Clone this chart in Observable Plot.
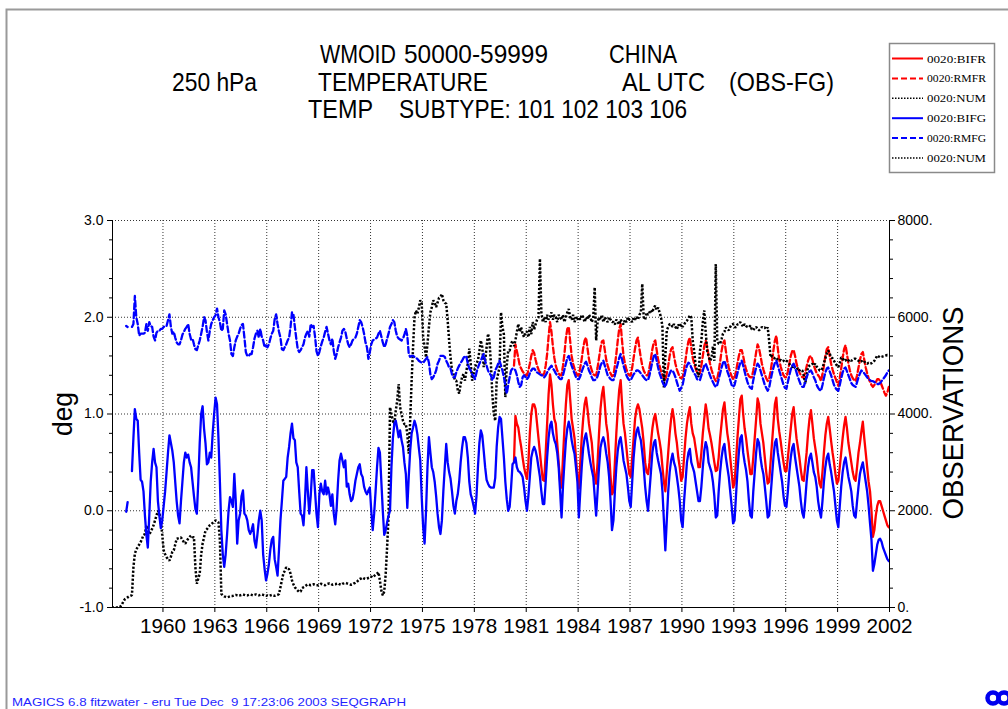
<!DOCTYPE html>
<html><head><meta charset="utf-8">
<script src="https://cdn.jsdelivr.net/npm/d3@7"></script>
<script src="https://cdn.jsdelivr.net/npm/@observablehq/plot@0.6"></script>
<style>
html,body{margin:0;padding:0;background:#fff;}
#page{position:relative;width:1008px;height:709px;overflow:hidden;background:#fff;}
#page > svg{position:absolute;left:0;top:0;}
</style></head><body><div id="page"></div>
<script>
const N = null;
// tick values
const yearTicks = [1960,1963,1966,1969,1972,1975,1978,1981,1984,1987,1990,1993,1996,1999,2002];
const degTicks = [-1,0,1,2,3];
const degMinor = [-0.8,-0.6,-0.4,-0.2,0.2,0.4,0.6,0.8,1.2,1.4,1.6,1.8,2.2,2.4,2.6,2.8];
const obsPerDeg = 2000; // right axis: 0..8000 observations over -1..3 deg
const xDomain = [1957.083, 2002];

// monthly series, Jan of start year first
const bifgStart = 1957;
const bifg = [
/*1957*/ N,N,N,N,N,N,N,N,N,N,-0.01,0.09,
/*1958*/ N,N,0.41,0.75,1.05,0.95,0.93,0.6,0.32,0.3,0.2,-0.05,
/*1959*/ -0.25,-0.38,-0.05,0.3,0.5,0.64,0.5,0.45,0.1,-0.05,-0.18,-0.1,
/*1960*/ 0.05,0.2,0.4,0.6,0.78,0.7,0.62,0.5,0.3,0.1,-0.05,-0.13,
/*1961*/ 0.1,0.3,0.5,0.6,0.55,0.58,0.5,0.45,0.3,0.15,0.02,-0.03,
/*1962*/ 0.3,0.7,1.0,1.08,0.85,0.7,0.48,0.5,0.6,0.55,0.8,1.0,
/*1963*/ 1.17,1.1,0.75,0.3,-0.2,-0.45,-0.58,-0.45,-0.24,0.0,0.14,0.1,
/*1964*/ 0.04,0.38,0.1,-0.34,-0.1,-0.03,0.15,0.21,-0.03,-0.05,-0.1,-0.2,
/*1965*/ -0.24,-0.2,-0.14,-0.31,-0.38,-0.25,-0.1,0.0,-0.1,-0.45,-0.6,-0.72,
/*1966*/ -0.65,-0.55,-0.4,-0.3,-0.27,-0.5,-0.58,-0.67,-0.4,-0.1,0.1,0.31,
/*1967*/ 0.33,0.35,0.55,0.66,0.8,0.9,0.75,0.73,0.5,0.45,0.2,-0.03,
/*1968*/ -0.05,-0.15,0.1,0.45,0.2,-0.03,0.15,0.42,0.42,0.2,-0.03,-0.17,
/*1969*/ 0.17,0.28,0.2,0.17,0.31,0.17,0.24,0.17,0.05,0.17,-0.03,-0.14,
/*1970*/ 0.03,0.31,0.52,0.59,0.52,0.45,0.52,0.25,0.28,0.17,0.1,0.12,
/*1971*/ 0.2,0.31,0.38,0.45,0.48,0.38,0.35,0.25,0.2,0.17,0.21,0.24,
/*1972*/ 0.0,-0.2,-0.03,0.2,0.45,0.65,0.6,0.3,0.0,-0.25,-0.2,-0.12,
/*1973*/ -0.05,0.0,0.45,0.75,0.9,0.93,0.85,0.76,0.83,0.73,0.66,0.5,
/*1974*/ 0.38,0.03,0.35,0.62,0.8,0.86,0.93,0.88,0.79,0.65,0.52,0.14,
/*1975*/ -0.17,-0.34,0.0,0.45,0.76,0.6,0.45,0.4,0.3,0.15,-0.03,-0.17,
/*1976*/ -0.24,-0.1,0.2,0.45,0.69,0.5,0.4,0.33,0.2,0.05,-0.03,0.1,
/*1977*/ 0.17,0.3,0.5,0.65,0.76,0.76,0.7,0.55,0.3,0.17,0.12,0.05,
/*1978*/ -0.03,0.15,0.45,0.7,0.83,0.78,0.62,0.45,0.32,0.28,0.25,0.24,
/*1979*/ 0.24,0.24,0.34,0.66,0.86,0.97,0.95,0.75,0.55,0.3,0.12,0.0,
/*1980*/ 0.04,0.24,0.48,0.5,0.55,0.45,0.41,0.4,0.38,0.35,0.24,0.1,
/*1981*/ 0.0,0.15,0.35,0.55,0.62,0.66,0.62,0.55,0.45,0.35,0.2,0.07,
/*1982*/ 0.07,0.3,0.55,0.75,0.88,0.92,0.8,0.73,0.69,0.6,0.45,0.2,
/*1983*/ -0.07,0.25,0.5,0.72,0.85,0.92,0.85,0.73,0.65,0.59,0.45,0.3,
/*1984*/ -0.07,0.2,0.45,0.65,0.75,0.8,0.7,0.59,0.5,0.42,0.35,0.15,
/*1985*/ -0.05,0.2,0.45,0.65,0.72,0.76,0.7,0.59,0.5,0.35,0.1,-0.2,
/*1986*/ -0.1,0.2,0.45,0.62,0.72,0.76,0.65,0.52,0.45,0.38,0.25,0.1,
/*1987*/ 0.04,0.3,0.55,0.72,0.82,0.86,0.78,0.73,0.6,0.45,0.25,0.1,
/*1988*/ 0.0,0.2,0.4,0.6,0.7,0.73,0.6,0.52,0.45,0.38,0.2,-0.1,
/*1989*/ -0.41,-0.1,0.2,0.4,0.52,0.59,0.5,0.45,0.35,0.24,0.1,-0.1,
/*1990*/ -0.17,0.1,0.3,0.5,0.6,0.64,0.5,0.45,0.4,0.3,0.2,0.1,
/*1991*/ 0.1,0.25,0.45,0.62,0.71,0.65,0.5,0.45,0.4,0.3,0.15,-0.07,
/*1992*/ -0.05,0.2,0.4,0.55,0.65,0.69,0.55,0.45,0.35,0.2,0.05,-0.13,
/*1993*/ -0.1,0.15,0.4,0.6,0.75,0.78,0.6,0.5,0.42,0.3,0.1,-0.05,
/*1994*/ -0.07,0.2,0.4,0.6,0.74,0.7,0.55,0.45,0.38,0.25,0.1,-0.07,
/*1995*/ -0.05,0.15,0.35,0.55,0.7,0.74,0.6,0.5,0.4,0.3,0.15,0.05,
/*1996*/ 0.04,0.2,0.4,0.55,0.65,0.69,0.55,0.45,0.35,0.25,0.1,-0.02,
/*1997*/ -0.07,0.1,0.3,0.45,0.55,0.59,0.5,0.4,0.35,0.25,0.1,0.0,
/*1998*/ -0.07,0.1,0.3,0.45,0.55,0.59,0.48,0.4,0.3,0.2,0.05,-0.1,
/*1999*/ -0.17,0.05,0.25,0.4,0.5,0.55,0.45,0.35,0.28,0.2,0.05,-0.05,
/*2000*/ -0.07,0.1,0.25,0.38,0.45,0.5,0.4,0.3,0.2,0.05,-0.13,-0.3,
/*2001*/ -0.62,-0.55,-0.45,-0.35,-0.3,-0.29,-0.32,-0.38,-0.42,-0.46,-0.5,-0.52
];

const rmfgStart = 1957;
const rmfg = [
/*1957*/ N,N,N,N,N,N,N,N,N,N,1.91,1.9,
/*1958*/ N,N,1.9,1.93,2.22,2.0,1.93,1.81,1.83,1.83,1.83,1.84,
/*1959*/ 1.93,1.86,1.95,1.91,1.9,1.8,1.76,1.84,1.86,1.86,1.88,1.88,
/*1960*/ 1.9,1.91,1.91,1.97,2.03,1.9,1.83,1.85,1.79,1.74,1.72,1.72,
/*1961*/ 1.76,1.82,1.85,1.88,1.9,1.93,1.83,1.77,1.78,1.72,1.67,1.66,
/*1962*/ 1.71,1.76,1.83,1.9,2.0,1.97,1.85,1.76,1.86,1.93,1.97,2.0,
/*1963*/ 2.02,2.09,2.0,1.95,1.86,1.88,2.07,2.03,1.93,1.83,1.76,1.62,
/*1964*/ 1.6,1.69,1.76,1.8,1.83,1.88,1.92,1.93,1.79,1.64,1.6,1.6,
/*1965*/ 1.62,1.62,1.69,1.78,1.83,1.86,1.79,1.88,1.8,1.76,1.69,1.71,
/*1966*/ 1.69,1.72,1.78,1.83,1.86,1.98,2.03,1.93,1.85,1.79,1.67,1.66,
/*1967*/ 1.69,1.72,1.76,1.79,1.9,2.05,2.03,1.9,1.78,1.67,1.64,1.66,
/*1968*/ 1.69,1.72,1.79,1.83,1.86,1.8,1.93,1.9,1.91,1.8,1.65,1.6,
/*1969*/ 1.64,1.7,1.75,1.79,1.85,1.9,1.83,1.76,1.72,1.78,1.65,1.57,
/*1970*/ 1.62,1.69,1.74,1.79,1.86,1.88,1.85,1.78,1.72,1.69,1.72,1.76,
/*1971*/ 1.78,1.79,1.83,1.9,1.97,1.95,1.9,1.83,1.74,1.69,1.57,1.64,
/*1972*/ 1.72,1.76,1.77,1.78,1.79,1.83,1.86,1.8,1.74,1.69,1.72,1.78,
/*1973*/ 1.83,1.9,1.93,1.97,1.95,1.86,1.8,1.78,1.77,1.76,1.78,1.82,
/*1974*/ 1.88,1.81,1.62,1.59,1.6,1.6,1.59,1.58,1.57,1.55,1.54,1.53,
/*1975*/ 1.53,1.55,1.57,1.59,1.53,1.41,1.36,1.38,1.41,1.45,1.52,1.55,
/*1976*/ 1.6,1.6,1.6,1.59,1.55,1.52,1.48,1.47,1.41,1.38,1.38,1.43,
/*1977*/ 1.47,1.5,1.53,1.55,1.58,1.6,1.59,1.52,1.47,1.45,1.41,1.39,
/*1978*/ 1.36,1.43,1.48,1.52,1.55,1.59,1.62,1.55,1.5,1.45,1.42,1.4,
/*1979*/ 1.35,1.38,1.45,1.48,1.52,1.55,1.5,1.45,1.38,1.3,1.21,1.3,
/*1980*/ 1.38,1.45,1.47,1.47,1.45,1.4,1.33,1.28,1.3,1.38,1.4,1.38,
/*1981*/ 1.36,1.38,1.42,1.45,1.47,1.47,1.45,1.43,1.42,1.41,1.4,1.4,
/*1982*/ 1.38,1.4,1.43,1.46,1.48,1.5,1.47,1.45,1.42,1.4,1.38,1.36,
/*1983*/ 1.36,1.4,1.46,1.52,1.58,1.6,1.55,1.5,1.46,1.42,1.38,1.36,
/*1984*/ 1.36,1.39,1.44,1.48,1.52,1.54,1.5,1.45,1.42,1.38,1.35,1.35,
/*1985*/ 1.36,1.39,1.44,1.5,1.53,1.55,1.5,1.45,1.4,1.38,1.36,1.35,
/*1986*/ 1.35,1.4,1.46,1.52,1.58,1.62,1.56,1.5,1.45,1.4,1.37,1.35,
/*1987*/ 1.35,1.38,1.41,1.43,1.45,1.45,1.44,1.42,1.4,1.38,1.36,1.35,
/*1988*/ 1.35,1.4,1.47,1.54,1.6,1.62,1.55,1.48,1.42,1.38,1.33,1.3,
/*1989*/ 1.28,1.33,1.38,1.42,1.45,1.45,1.42,1.38,1.33,1.28,1.24,1.27,
/*1990*/ 1.3,1.38,1.45,1.5,1.53,1.52,1.48,1.45,1.42,1.4,1.36,1.35,
/*1991*/ 1.35,1.4,1.45,1.5,1.52,1.48,1.44,1.4,1.36,1.33,1.3,1.28,
/*1992*/ 1.3,1.36,1.42,1.48,1.53,1.55,1.5,1.44,1.4,1.35,1.3,1.28,
/*1993*/ 1.3,1.36,1.42,1.48,1.53,1.55,1.5,1.44,1.38,1.33,1.29,1.27,
/*1994*/ 1.26,1.35,1.42,1.48,1.52,1.5,1.45,1.4,1.35,1.3,1.27,1.24,
/*1995*/ 1.27,1.35,1.42,1.48,1.53,1.55,1.5,1.45,1.4,1.35,1.3,1.27,
/*1996*/ 1.26,1.33,1.4,1.46,1.5,1.52,1.48,1.43,1.38,1.34,1.3,1.28,
/*1997*/ 1.28,1.33,1.38,1.42,1.44,1.45,1.42,1.38,1.35,1.3,1.27,1.25,
/*1998*/ 1.24,1.3,1.37,1.43,1.47,1.48,1.44,1.4,1.35,1.3,1.27,1.25,
/*1999*/ 1.24,1.3,1.37,1.43,1.47,1.48,1.44,1.4,1.36,1.32,1.3,1.29,
/*2000*/ 1.28,1.33,1.38,1.42,1.45,1.44,1.42,1.4,1.38,1.36,1.35,1.34,
/*2001*/ 1.34,1.33,1.32,1.31,1.31,1.32,1.34,1.36,1.38,1.4,1.43,1.45
];

const bifrStart = 1980;
const bifr = [
/*1980*/ N,N,N,0.5,0.98,0.9,0.86,0.75,0.66,0.55,0.45,0.38,
/*1981*/ 0.33,0.5,0.8,1.0,1.1,1.1,1.05,0.9,0.75,0.6,0.45,0.32,
/*1982*/ 0.31,0.6,0.9,1.2,1.41,1.3,1.1,0.95,0.9,0.7,0.5,0.3,
/*1983*/ 0.24,0.55,0.85,1.1,1.3,1.35,1.15,0.95,0.85,0.75,0.55,0.35,
/*1984*/ 0.23,0.5,0.75,0.95,1.1,1.17,1.05,0.9,0.8,0.7,0.5,0.35,
/*1985*/ 0.28,0.5,0.8,1.05,1.2,1.28,1.1,0.9,0.8,0.6,0.35,0.17,
/*1986*/ 0.2,0.5,0.8,1.05,1.25,1.35,1.1,0.9,0.8,0.65,0.5,0.38,
/*1987*/ 0.35,0.55,0.75,0.95,1.05,1.1,1.05,0.95,0.85,0.7,0.5,0.4,
/*1988*/ 0.38,0.5,0.7,0.85,0.95,1.0,0.9,0.8,0.72,0.62,0.45,0.3,
/*1989*/ 0.2,0.4,0.6,0.8,0.95,1.05,0.95,0.8,0.7,0.55,0.45,0.31,
/*1990*/ 0.35,0.55,0.75,0.9,1.0,1.07,0.9,0.8,0.75,0.65,0.55,0.45,
/*1991*/ 0.45,0.6,0.8,0.95,1.1,1.0,0.85,0.78,0.7,0.6,0.5,0.41,
/*1992*/ 0.42,0.55,0.75,0.9,1.05,1.12,0.95,0.8,0.7,0.55,0.4,0.24,
/*1993*/ 0.28,0.5,0.75,0.95,1.15,1.19,1.0,0.85,0.75,0.62,0.5,0.38,
/*1994*/ 0.38,0.55,0.75,0.95,1.16,1.1,0.9,0.8,0.7,0.55,0.4,0.28,
/*1995*/ 0.3,0.5,0.7,0.9,1.1,1.17,0.95,0.82,0.72,0.6,0.5,0.41,
/*1996*/ 0.41,0.55,0.7,0.85,1.0,1.07,0.9,0.75,0.65,0.55,0.42,0.32,
/*1997*/ 0.31,0.45,0.6,0.8,0.95,1.04,0.9,0.75,0.65,0.55,0.4,0.28,
/*1998*/ 0.24,0.4,0.6,0.78,0.9,0.97,0.85,0.72,0.6,0.5,0.38,0.28,
/*1999*/ 0.31,0.45,0.6,0.75,0.88,0.97,0.85,0.7,0.6,0.5,0.4,0.33,
/*2000*/ 0.31,0.45,0.6,0.7,0.82,0.92,0.75,0.6,0.45,0.3,0.2,0.0,
/*2001*/ -0.27,-0.2,-0.05,0.05,0.1,0.1,0.05,0.0,-0.05,-0.1,-0.15,-0.17
];

const rmfrStart = 1980;
const rmfr = [
/*1980*/ N,N,N,1.5,1.72,1.65,1.58,1.5,1.47,1.44,1.42,1.4,
/*1981*/ 1.4,1.45,1.52,1.6,1.66,1.63,1.56,1.5,1.46,1.43,1.41,1.4,
/*1982*/ 1.42,1.5,1.62,1.8,1.95,1.85,1.7,1.58,1.5,1.45,1.42,1.4,
/*1983*/ 1.4,1.5,1.62,1.78,1.88,1.9,1.75,1.6,1.52,1.47,1.43,1.4,
/*1984*/ 1.4,1.48,1.57,1.68,1.76,1.79,1.68,1.57,1.5,1.45,1.41,1.4,
/*1985*/ 1.4,1.48,1.58,1.68,1.75,1.76,1.66,1.56,1.5,1.45,1.42,1.39,
/*1986*/ 1.4,1.5,1.62,1.76,1.88,1.93,1.75,1.6,1.52,1.46,1.42,1.4,
/*1987*/ 1.4,1.48,1.58,1.68,1.76,1.79,1.68,1.58,1.5,1.45,1.42,1.4,
/*1988*/ 1.4,1.48,1.57,1.67,1.74,1.76,1.66,1.56,1.5,1.44,1.4,1.37,
/*1989*/ 1.35,1.42,1.5,1.6,1.67,1.69,1.6,1.52,1.46,1.42,1.38,1.37,
/*1990*/ 1.38,1.46,1.56,1.67,1.75,1.79,1.68,1.58,1.52,1.47,1.43,1.41,
/*1991*/ 1.42,1.5,1.6,1.7,1.76,1.7,1.6,1.52,1.46,1.41,1.37,1.34,
/*1992*/ 1.36,1.44,1.54,1.65,1.73,1.76,1.65,1.55,1.48,1.43,1.39,1.36,
/*1993*/ 1.37,1.44,1.52,1.6,1.66,1.66,1.6,1.52,1.46,1.42,1.39,1.38,
/*1994*/ 1.38,1.45,1.54,1.64,1.72,1.68,1.6,1.52,1.46,1.41,1.37,1.34,
/*1995*/ 1.36,1.44,1.54,1.66,1.76,1.81,1.68,1.56,1.49,1.44,1.4,1.38,
/*1996*/ 1.38,1.44,1.52,1.6,1.65,1.66,1.6,1.52,1.47,1.43,1.4,1.38,
/*1997*/ 1.38,1.43,1.49,1.55,1.59,1.6,1.56,1.5,1.46,1.42,1.4,1.38,
/*1998*/ 1.34,1.41,1.5,1.6,1.67,1.69,1.6,1.52,1.46,1.41,1.37,1.33,
/*1999*/ 1.29,1.37,1.47,1.58,1.67,1.71,1.62,1.52,1.45,1.4,1.37,1.35,
/*2000*/ 1.34,1.4,1.48,1.56,1.62,1.64,1.56,1.48,1.42,1.37,1.33,1.3,
/*2001*/ 1.28,1.3,1.33,1.36,1.36,1.34,1.3,1.26,1.22,1.19,1.22,1.28
];

// number of observations (right axis)
const numStart = 1957;
const num = [
/*1957*/ 0,0,0,0,0,0,20,60,120,170,190,210,
/*1958*/ 230,240,260,830,1110,1200,1250,1300,1350,1420,1500,1520,
/*1959*/ 1700,1600,1520,1560,1630,1700,1800,1900,2000,1950,1800,1500,
/*1960*/ 1180,1100,1040,1000,970,1050,1150,1180,1300,1420,1430,1440,
/*1961*/ 1450,1400,1350,1320,1380,1420,1460,1490,1450,1450,830,490,
/*1962*/ 600,700,1100,1320,1450,1590,1620,1660,1700,1720,1750,1780,
/*1963*/ 1800,1790,1760,1390,280,250,230,220,210,220,230,240,
/*1964*/ 240,250,260,250,240,250,260,270,260,250,250,260,
/*1965*/ 270,260,250,260,270,260,250,260,270,260,250,240,
/*1966*/ 250,240,250,260,250,240,250,260,280,420,560,700,
/*1967*/ 760,830,800,790,700,560,480,420,380,350,320,330,
/*1968*/ 400,420,440,460,480,470,460,470,480,470,460,460,
/*1969*/ 470,490,480,470,460,480,490,500,490,470,480,480,
/*1970*/ 490,500,480,470,490,500,510,500,490,480,470,480,
/*1971*/ 500,510,530,560,590,600,620,600,590,600,610,620,
/*1972*/ 640,620,650,680,700,730,560,350,250,330,690,1250,
/*1973*/ 1900,4140,4000,3850,3790,4070,4280,4620,4140,4000,3860,3790,
/*1974*/ 3790,3590,3180,3870,4690,5380,6000,6140,6070,6200,6350,6280,
/*1975*/ 5590,5380,5170,5450,5800,6100,6210,6350,6300,6210,6300,6400,
/*1976*/ 6420,6480,6350,6300,6280,5930,5520,5170,4900,4830,4700,4690,
/*1977*/ 4500,4420,4620,4760,4830,4690,4900,5040,5350,5040,4690,4800,
/*1978*/ 4970,5040,5110,5300,5520,5380,4970,5100,5380,5660,5520,5040,
/*1979*/ 4400,4000,3860,4690,4830,4970,6100,5800,5650,4350,5000,5310,
/*1980*/ 5310,5450,5520,5400,5520,5700,5860,5700,5790,5650,5590,5700,
/*1981*/ 5700,5590,5800,5650,5900,5750,5850,5950,6000,7210,6100,5900,
/*1982*/ 6000,5900,6050,5950,6000,6100,5950,6050,6000,5900,6050,6000,
/*1983*/ 5950,6050,5900,6000,6100,6170,6000,5950,6050,5900,6000,5950,
/*1984*/ 6000,5950,6050,6000,5900,6000,5950,6050,6000,5900,6000,6620,
/*1985*/ 5520,5900,6000,5950,6050,5900,6000,5950,5900,6000,5950,5900,
/*1986*/ 5900,5850,5950,5900,5850,5950,5900,5850,5950,5900,6000,5950,
/*1987*/ 5950,5900,6000,5950,6000,5950,6050,6100,6690,6000,5950,6100,
/*1988*/ 6050,6100,6150,6100,6200,6240,6150,6200,6100,6000,5800,4550,
/*1989*/ 5200,5730,5800,5860,5850,5800,5860,5800,5750,5850,5800,5850,
/*1990*/ 5800,5850,5900,5930,5980,6040,6000,5520,5300,5000,4900,4760,
/*1991*/ 5300,5520,5900,6140,5700,5310,5200,5100,5150,5400,5100,7100,
/*1992*/ 5520,5450,5450,5550,5660,5700,5790,5750,5730,5800,5850,5860,
/*1993*/ 5800,5790,5850,5860,5900,5850,5800,5860,5820,5800,5790,5830,
/*1994*/ 5750,5730,5780,5800,5760,5730,5760,5800,5780,5790,5750,5790,
/*1995*/ 5520,5170,5200,5170,5150,5170,5120,5100,5120,5090,5100,5080,
/*1996*/ 5100,5080,5040,5000,4970,5000,4950,4920,4950,4900,4920,4900,
/*1997*/ 4800,4620,4800,4970,5000,5020,5040,5000,5040,4980,4950,4900,
/*1998*/ 4900,4950,5050,5150,5250,5310,5250,5170,5150,5100,5050,5000,
/*1999*/ 4970,5050,5170,5150,5100,5120,5080,5100,5130,5100,5120,5140,
/*2000*/ 5140,5120,5100,5080,5100,5060,5080,5050,5040,5060,5040,5050,
/*2001*/ 5080,5100,5150,5210,5190,5170,5180,5190,5200,5210,5220,5210
];

const legendLabels = ["0020:BIFR","0020:RMFR","0020:NUM","0020:BIFG","0020:RMFG","0020:NUM"];
const legendColors = ["#ff0000","#ff0000","#000000","#0000ff","#0000ff","#000000"];
const legendDash = ["none","6,3","1.5,1.5","none","6,3","1.5,1.5"];

function monthly(start, vals, f = v => v) {
  return vals.map((v, k) => ({date: start + (k + 0.5) / 12, value: v == null ? null : f(v)}));
}
const toDeg = obs => obs / obsPerDeg - 1;

const dBIFG = monthly(bifgStart, bifg);
const dRMFG = monthly(rmfgStart, rmfg);
const dBIFR = monthly(bifrStart, bifr);
const dRMFR = monthly(rmfrStart, rmfr);
const dNUM = monthly(numStart, num, toDeg);

const gridStyle = {stroke: "#333", strokeOpacity: 1, strokeDasharray: "1,2", strokeWidth: 1};
const lineOpt = (stroke, dash, w = 2.3) => ({x: "date", y: "value", stroke, strokeWidth: w, strokeDasharray: dash, clip: true, strokeLinejoin: "round"});

const chart = Plot.plot({
  width: 1008, height: 709,
  marginTop: 220, marginBottom: 102, marginLeft: 112, marginRight: 119,
  x: {domain: xDomain, label: null},
  y: {domain: [-1, 3], label: null},
  style: {fontFamily: "'Liberation Sans', Arial, sans-serif", fontSize: "14px", background: "transparent", color: "#000"},
  marks: [
    Plot.gridY({ticks: degTicks, ...gridStyle}),
    Plot.gridX({ticks: yearTicks, ...gridStyle}),
    Plot.line(dBIFR, lineOpt("#ff0000", null)),
    Plot.line(dRMFR, lineOpt("#ff0000", "6,3")),
    Plot.line(dNUM, {...lineOpt("#000000", "2.2,1.8", 2.5), strokeLinejoin: "miter", strokeLinecap: "butt"}),
    Plot.line(dBIFG, lineOpt("#0000ff", null)),
    Plot.line(dRMFG, lineOpt("#0000ff", "6,3")),
    Plot.ruleX(xDomain, {stroke: "#000", strokeWidth: 1}),
    Plot.ruleY([-1], {stroke: "#000", strokeWidth: 1}),
    Plot.axisY({ticks: degTicks, tickFormat: d => d.toFixed(1), tickSize: 5, tickPadding: 4, anchor: "left", fontSize: 14, label: null}),
    Plot.axisY({ticks: degMinor, tickFormat: () => "", tickSize: 3, anchor: "left", label: null}),
    Plot.axisY({ticks: degTicks, tickFormat: d => `${(d + 1) * obsPerDeg}.`, tickSize: 5, tickPadding: 3, anchor: "right", fontSize: 14, label: null}),
    Plot.axisY({ticks: degMinor, tickFormat: () => "", tickSize: 3, anchor: "right", label: null}),
    Plot.axisX({ticks: yearTicks, tickFormat: d => String(d), tickSize: 5, tickPadding: 6, fontSize: 21, label: null, fontFamily: "'Liberation Sans Narrow','Liberation Sans',Arial,sans-serif"})
  ]
});
document.getElementById("page").appendChild(chart);

// condense the year labels to the reference width
d3.select(chart).selectAll("g[aria-label='x-axis tick label'] text")
  .attr("textLength", 46).attr("lengthAdjust", "spacingAndGlyphs");

// ---- overlay: titles, legend, page frame, footer ----
const svg = d3.select("#page").append("svg").attr("width", 1008).attr("height", 709)
  .style("pointer-events", "none");

svg.append("path").attr("d", "M6.5,709 L6.5,9.5 L1008,9.5").attr("fill", "none")
  .attr("stroke", "#9a9a9a").attr("stroke-width", 2);

const NARROW = "'Liberation Sans Narrow','Liberation Sans',Arial,sans-serif";
function txt(x, y, s, size, len, opt = {}) {
  const t = svg.append("text").attr("x", x).attr("y", y).text(s)
    .attr("font-family", opt.family || NARROW).attr("font-size", size)
    .attr("fill", opt.fill || "#000");
  if (len) t.attr("textLength", len).attr("lengthAdjust", "spacingAndGlyphs");
  if (opt.transform) t.attr("transform", opt.transform);
  if (opt.anchor) t.attr("text-anchor", opt.anchor);
  return t;
}
// title lines
txt(320, 63, "WMOID", 25, 76);
txt(404, 63, "50000-59999", 25, 144);
txt(609, 63, "CHINA", 25, 68);
txt(172, 91, "250 hPa", 25, 85);
txt(318, 91, "TEMPERATURE", 25, 170);
txt(622, 91, "AL UTC", 25, 83);
txt(729, 91, "(OBS-FG)", 25, 105);
txt(308, 118, "TEMP", 25, 65);
txt(399, 118, "SUBTYPE: 101 102 103 106", 25, 288);

// axis titles
txt(0, 0, "deg", 27, 44, {family: "'Liberation Sans',Arial,sans-serif", transform: "translate(72,414) rotate(-90)", anchor: "middle"});
txt(0, 0, "OBSERVATIONS", 30, 213, {family: "'Liberation Sans',Arial,sans-serif", transform: "translate(963,413) rotate(-90)", anchor: "middle"});

// legend
svg.append("rect").attr("x", 889.5).attr("y", 43.5).attr("width", 105).attr("height", 129)
  .attr("fill", "#fff").attr("stroke", "#8a8a8a").attr("stroke-width", 1.5);
legendLabels.forEach((lab, k) => {
  const y = 58.5 + k * 19.9;
  svg.append("line").attr("x1", 892).attr("x2", 923).attr("y1", y).attr("y2", y)
    .attr("stroke", legendColors[k]).attr("stroke-width", legendColors[k] === "#000000" ? 1.5 : 2)
    .attr("stroke-dasharray", legendDash[k]);
  txt(927, y + 4, lab, 11, 59, {family: "'Liberation Serif','Times New Roman',serif"});
});

// footer + logo
txt(12, 706, "MAGICS 6.8 fitzwater - eru Tue Dec  9 17:23:06 2003 SEQGRAPH", 11, 394, {fill: "#1f1fff"}).attr("xml:space", "preserve");
const logo = svg.append("g").attr("fill", "none").attr("stroke", "#0000ee").attr("stroke-width", 4.5);
logo.append("circle").attr("cx", 993).attr("cy", 698).attr("r", 5.5);
logo.append("circle").attr("cx", 1004).attr("cy", 698).attr("r", 5.5);
</script></body></html>
